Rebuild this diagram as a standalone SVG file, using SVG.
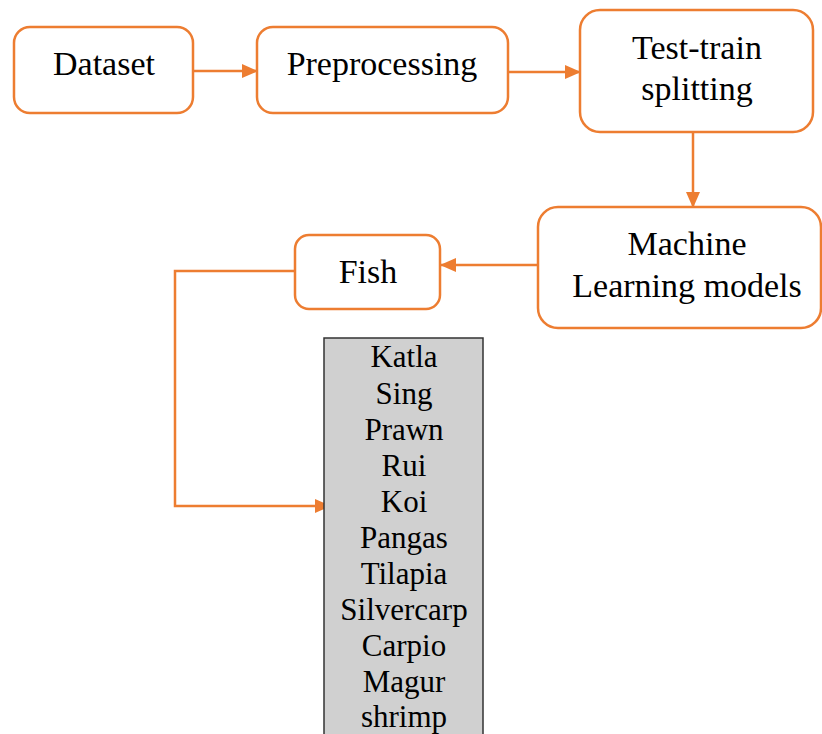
<svg xmlns="http://www.w3.org/2000/svg" width="822" height="734" viewBox="0 0 822 734">
<defs>
<style>
.box{fill:#fff;stroke:#ED7D31;stroke-width:2.5}
.lbl{font-family:"Liberation Serif","Times New Roman",serif;font-size:34px;fill:#000;text-anchor:middle}
.lst{font-family:"Liberation Serif","Times New Roman",serif;font-size:31px;fill:#000;text-anchor:middle}
.con{fill:none;stroke:#ED7D31;stroke-width:2.5}
</style>
<marker id="ah" markerWidth="10" markerHeight="10" refX="9" refY="5" orient="auto" markerUnits="userSpaceOnUse" viewBox="0 0 10 10">
<path d="M0,0 L10,5 L0,10 z" fill="#ED7D31"/>
</marker>
<marker id="ah2" markerWidth="16" markerHeight="16" refX="15" refY="8" orient="auto" markerUnits="userSpaceOnUse" viewBox="0 0 16 16">
<path d="M0,1 L16,8 L0,15 z" fill="#ED7D31"/>
</marker>
</defs>
<rect width="822" height="734" fill="#fff"/>
<g id="connectors">
<line class="con" x1="193" y1="71" x2="257" y2="71" marker-end="url(#ah2)"/>
<line class="con" x1="508" y1="72" x2="580" y2="72" marker-end="url(#ah2)"/>
<line class="con" x1="693" y1="132" x2="693" y2="207" marker-end="url(#ah2)"/>
<line class="con" x1="538" y1="265" x2="441" y2="265" marker-end="url(#ah2)"/>
<polyline class="con" points="295,271 175,271 175,506 330,506" marker-end="url(#ah2)"/>
</g>
<g id="dataset">
<rect class="box" x="14" y="27" width="179" height="86" rx="16"/>
<text class="lbl" x="104" y="75">Dataset</text>
</g>
<g id="preprocessing">
<rect class="box" x="257" y="27" width="251" height="86" rx="16"/>
<text class="lbl" x="382" y="75">Preprocessing</text>
</g>
<g id="testtrain">
<rect class="box" x="580" y="10" width="233" height="122" rx="20"/>
<text class="lbl" x="697" y="59">Test-train</text>
<text class="lbl" x="697" y="100">splitting</text>
</g>
<g id="ml">
<rect class="box" x="538" y="207" width="283" height="121" rx="20"/>
<text class="lbl" x="687" y="255">Machine</text>
<text class="lbl" x="687" y="297">Learning models</text>
</g>
<g id="fish">
<rect class="box" x="295" y="235" width="145" height="74" rx="14"/>
<text class="lbl" x="368" y="283">Fish</text>
</g>
<g id="fishlist">
<rect x="324" y="338" width="159" height="410" fill="#D0D0D0" stroke="#333" stroke-width="1.5"/>
<text class="lst" x="404" y="367">Katla</text>
<text class="lst" x="404" y="404">Sing</text>
<text class="lst" x="404" y="440">Prawn</text>
<text class="lst" x="404" y="476">Rui</text>
<text class="lst" x="404" y="512">Koi</text>
<text class="lst" x="404" y="548">Pangas</text>
<text class="lst" x="404" y="584">Tilapia</text>
<text class="lst" x="404" y="620">Silvercarp</text>
<text class="lst" x="404" y="656">Carpio</text>
<text class="lst" x="404" y="692">Magur</text>
<text class="lst" x="404" y="727">shrimp</text>
</g>
</svg>
